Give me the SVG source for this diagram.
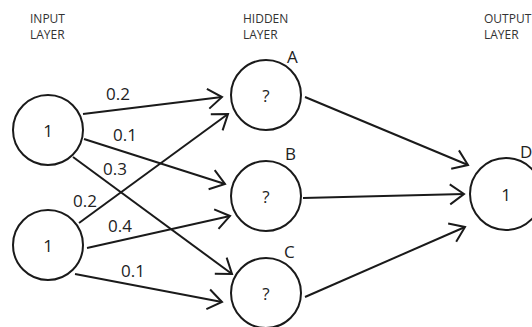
<svg xmlns="http://www.w3.org/2000/svg" width="532" height="327" viewBox="0 0 532 327">
  <defs>
    <marker id="arrow" markerUnits="userSpaceOnUse" orient="auto" overflow="visible" markerWidth="20" markerHeight="24" refX="0" refY="0">
      <path d="M-14,-10 L0,0 L-14,10" fill="none" stroke="#1a1a1a" stroke-width="2" stroke-linejoin="miter"/>
    </marker>
  </defs>
  <style>
    .node circle { fill: #fff; stroke: #1a1a1a; stroke-width: 2; }
    .val { font-family: "Open Sans", "DejaVu Sans", sans-serif; font-size: 17px; fill: #222; text-anchor: middle; }
    .tag { font-family: "Open Sans", "DejaVu Sans", sans-serif; font-size: 17px; fill: #222; }
    .layer { font-family: "Open Sans", "DejaVu Sans", sans-serif; font-size: 12px; fill: #333; }
    .edges line { stroke: #1a1a1a; stroke-width: 2; marker-end: url(#arrow); }
    .w { font-family: "Open Sans", "DejaVu Sans", sans-serif; font-size: 17px; fill: #222; }
  </style>
  <rect width="532" height="327" fill="#fff"/>

  <!-- layer headings -->
  <g id="headings">
    <text class="layer" x="30" y="23">INPUT</text>
    <text class="layer" x="30" y="39">LAYER</text>
    <text class="layer" x="243" y="23">HIDDEN</text>
    <text class="layer" x="243" y="39">LAYER</text>
    <text class="layer" x="484" y="23">OUTPUT</text>
    <text class="layer" x="484" y="39">LAYER</text>
  </g>

  <!-- connectors -->
  <g id="edges" class="edges">
    <line x1="83" y1="114" x2="222" y2="97"/>
    <line x1="79" y1="223" x2="228" y2="114"/>
    <line x1="84" y1="139" x2="225" y2="184"/>
    <line x1="73" y1="157" x2="232" y2="274"/>
    <line x1="87" y1="248" x2="230" y2="216"/>
    <line x1="75" y1="274" x2="222" y2="302"/>
    <line x1="305" y1="97" x2="468" y2="165"/>
    <line x1="303" y1="198" x2="464" y2="194"/>
    <line x1="305" y1="297" x2="465" y2="227"/>
  </g>

  <!-- weights -->
  <g id="weights">
    <text class="w" x="106" y="100">0.2</text>
    <text class="w" x="113" y="141">0.1</text>
    <text class="w" x="103" y="175">0.3</text>
    <text class="w" x="73" y="207">0.2</text>
    <text class="w" x="108" y="232">0.4</text>
    <text class="w" x="121" y="277">0.1</text>
  </g>

  <!-- input layer -->
  <g id="in1" class="node">
    <circle cx="48" cy="130" r="35"/>
    <text class="val" x="48" y="137">1</text>
  </g>
  <g id="in2" class="node">
    <circle cx="48" cy="245" r="35"/>
    <text class="val" x="48" y="252">1</text>
  </g>

  <!-- hidden layer -->
  <g id="hA" class="node">
    <circle cx="266" cy="95" r="35"/>
    <text class="val" x="266" y="102">?</text>
    <text class="tag" x="287" y="63">A</text>
  </g>
  <g id="hB" class="node">
    <circle cx="266" cy="196" r="35"/>
    <text class="val" x="266" y="203">?</text>
    <text class="tag" x="285" y="160">B</text>
  </g>
  <g id="hC" class="node">
    <circle cx="266" cy="293" r="35"/>
    <text class="val" x="266" y="300">?</text>
    <text class="tag" x="284" y="258">C</text>
  </g>

  <!-- output layer -->
  <g id="outD" class="node">
    <circle cx="506" cy="194" r="36"/>
    <text class="val" x="506" y="201">1</text>
    <text class="tag" x="520" y="158">D</text>
  </g>
</svg>
